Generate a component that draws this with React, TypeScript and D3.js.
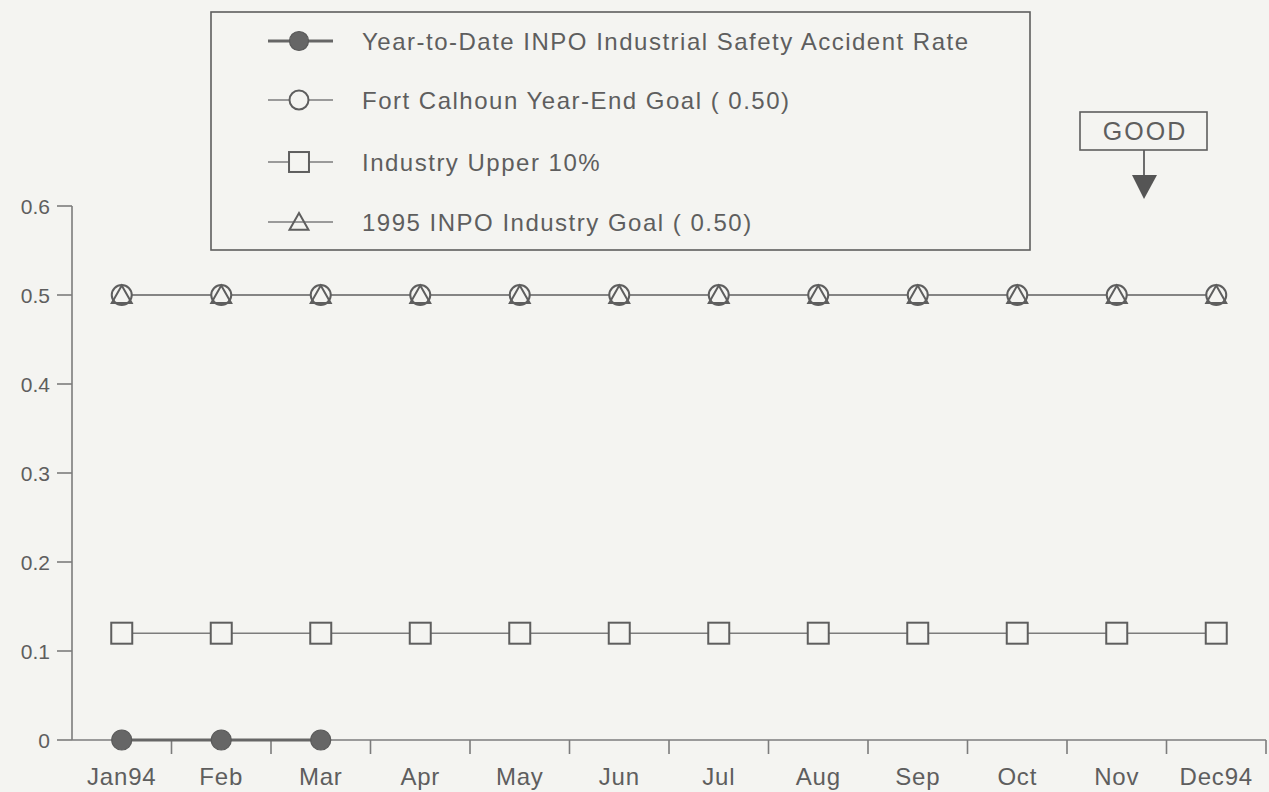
import React from "react";
import * as d3 from "d3";

const months = ["Jan94", "Feb", "Mar", "Apr", "May", "Jun", "Jul", "Aug", "Sep", "Oct", "Nov", "Dec94"];
const ytdRate = [0, 0, 0];
const fortCalhounGoal = [0.5, 0.5, 0.5, 0.5, 0.5, 0.5, 0.5, 0.5, 0.5, 0.5, 0.5, 0.5];
const industryUpper10 = [0.12, 0.12, 0.12, 0.12, 0.12, 0.12, 0.12, 0.12, 0.12, 0.12, 0.12, 0.12];
const inpoGoal1995 = [0.5, 0.5, 0.5, 0.5, 0.5, 0.5, 0.5, 0.5, 0.5, 0.5, 0.5, 0.5];
const yTicks = [0, 0.1, 0.2, 0.3, 0.4, 0.5, 0.6];
const legendLabels = [
  "Year-to-Date INPO Industrial Safety Accident Rate",
  "Fort Calhoun Year-End Goal ( 0.50)",
  "Industry Upper 10%",
  "1995 INPO Industry Goal ( 0.50)",
];

const BG = "#f4f4f1";
const INK = "#5e5e5e";
const LINE = "#7c7c7c";
const FONT = "'Liberation Sans', Arial, Helvetica, sans-serif";

type MarkerKind = "filled" | "circle" | "square" | "triangle";

function Marker({ kind, x, y, s = 1 }: { kind: MarkerKind; x: number; y: number; s?: number }) {
  if (kind === "filled") return <circle cx={x} cy={y} r={10 * s} fill="#666" stroke="#5a5a5a" strokeWidth={1.2} />;
  if (kind === "circle") return <circle cx={x} cy={y} r={10 * s} fill={BG} stroke={INK} strokeWidth={2} />;
  if (kind === "square") {
    const h = 10.5 * s;
    return <rect x={x - h} y={y - h} width={2 * h} height={2 * h} fill={BG} stroke={INK} strokeWidth={2} />;
  }
  const h = 9.5 * s;
  return <path d={`M${x},${y - h} L${x + h * 1.05},${y + h * 0.85} L${x - h * 1.05},${y + h * 0.85} Z`} fill="none" stroke={INK} strokeWidth={2} />;
}

export default function App() {
  const W = 1269, H = 792;
  const x0 = 72, x1 = 1266;
  const x = d3.scaleBand<string>().domain(months).range([x0, x1]);
  const y = d3.scaleLinear().domain([0, 0.6]).range([740, 206]);
  const cx = (m: string) => (x(m) as number) + x.bandwidth() / 2;

  const line = (vals: number[]) =>
    d3.line<number>().x((_, i) => cx(months[i])).y((v) => y(v))(vals) as string;

  const series: { vals: number[]; kind: MarkerKind; stroke: string; width: number }[] = [
    { vals: industryUpper10, kind: "square", stroke: LINE, width: 1.6 },
    { vals: fortCalhounGoal, kind: "circle", stroke: LINE, width: 1.6 },
    { vals: inpoGoal1995, kind: "triangle", stroke: LINE, width: 1.6 },
    { vals: ytdRate, kind: "filled", stroke: "#666", width: 2.8 },
  ];

  const legendRows = [41, 100, 162, 222];
  const legendKinds: MarkerKind[] = ["filled", "circle", "square", "triangle"];

  return (
    <svg width={W} height={H} style={{ display: "block", position: "absolute", left: 0, top: 0, background: BG }} fontFamily={FONT}>
      <rect x={0} y={0} width={W} height={H} fill={BG} />
      {/* Y axis */}
      <line x1={x0} x2={x0} y1={y(0.6)} y2={740} stroke={LINE} strokeWidth={1.6} />
      {yTicks.map((t) => (
        <g key={t}>
          <line x1={57} x2={x0} y1={y(t)} y2={y(t)} stroke={LINE} strokeWidth={1.6} />
          <text x={50} y={y(t)} dy="0.36em" textAnchor="end" fontSize={21} fill={INK}>
            {t === 0 ? "0" : d3.format(".1f")(t)}
          </text>
        </g>
      ))}
      {/* X axis */}
      <line x1={x0} x2={x1} y1={740} y2={740} stroke={LINE} strokeWidth={1.6} />
      {months.map((m, i) => (
        <g key={m}>
          {i > 0 && <line x1={x(m)} x2={x(m)} y1={740} y2={754} stroke={LINE} strokeWidth={1.6} />}
          <text x={cx(m)} y={785} textAnchor="middle" fontSize={24} letterSpacing={0.8} fill={INK}>{m}</text>
        </g>
      ))}
      <line x1={x1} x2={x1} y1={740} y2={754} stroke={LINE} strokeWidth={1.6} />

      {/* Series */}
      {series.map((s, si) => (
        <path key={si} d={line(s.vals)} fill="none" stroke={s.stroke} strokeWidth={s.width} />
      ))}
      {series.map((s, si) =>
        s.vals.map((v, i) => <Marker key={`${si}-${i}`} kind={s.kind} x={cx(months[i])} y={y(v)} />)
      )}

      {/* Legend */}
      <rect x={211} y={12} width={819} height={238} fill={BG} stroke={INK} strokeWidth={1.6} />
      {legendLabels.map((lab, i) => (
        <g key={lab}>
          <line x1={268} x2={333} y1={legendRows[i]} y2={legendRows[i]} stroke={i === 0 ? "#666" : LINE} strokeWidth={i === 0 ? 2.8 : 1.6} />
          <Marker kind={legendKinds[i]} x={299} y={legendRows[i]} s={0.95} />
          <text x={362} y={legendRows[i]} dy="0.36em" fontSize={24} letterSpacing={1.5} fill={INK}>{lab}</text>
        </g>
      ))}

      {/* GOOD indicator */}
      <rect x={1080} y={112} width={127} height={38} fill={BG} stroke={INK} strokeWidth={1.6} />
      <text x={1145} y={131} dy="0.36em" textAnchor="middle" fontSize={25} letterSpacing={2} fill={INK}>GOOD</text>
      <line x1={1144} x2={1144} y1={150} y2={178} stroke={INK} strokeWidth={1.8} />
      <path d="M1132,175 L1157,175 L1144,199 Z" fill="#555" />
    </svg>
  );
}
